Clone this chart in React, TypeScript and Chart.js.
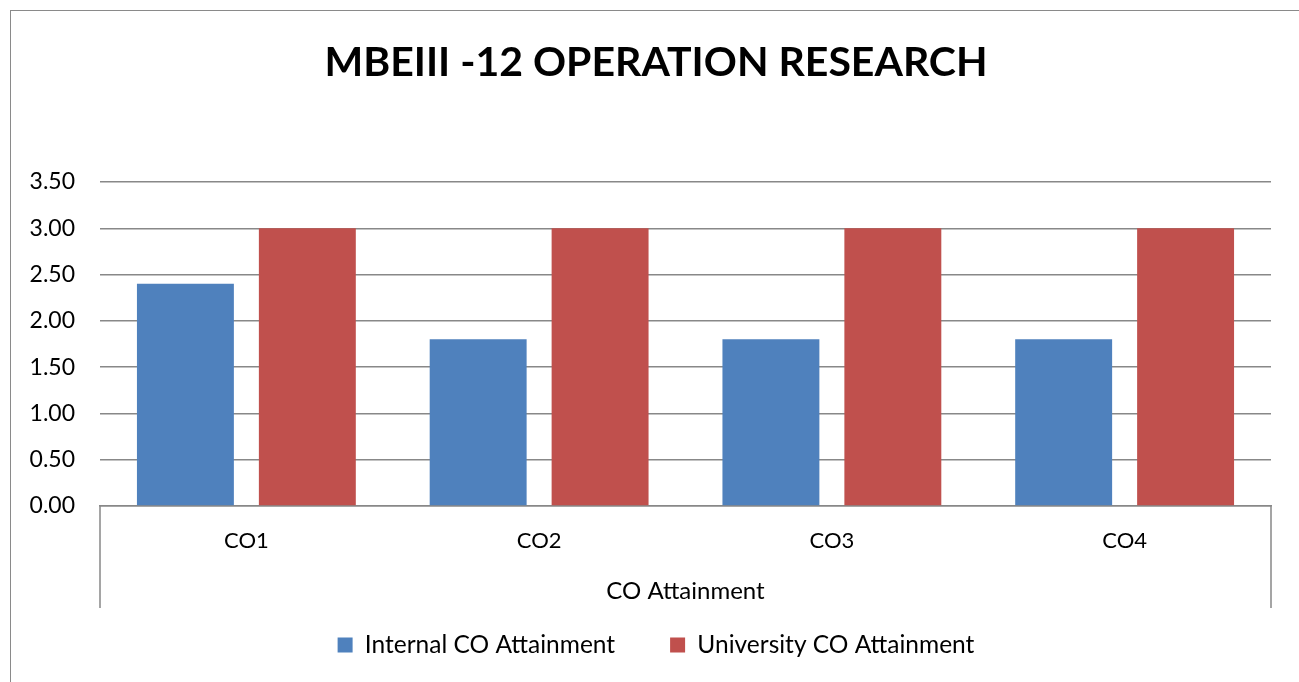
import React, { useEffect, useRef } from "react";
import { Chart, registerables } from "chart.js";

Chart.register(...registerables);

const chartTitle = "MBEIII -12 OPERATION RESEARCH";
const categories = ["CO1", "CO2", "CO3", "CO4"];
const axisTitle = "CO Attainment";
const seriesNames = ["Internal CO Attainment", "University CO Attainment"];
const internalValues = [2.4, 1.8, 1.8, 1.8];
const universityValues = [3.0, 3.0, 3.0, 3.0];
const yMin = 0;
const yMax = 3.5;
const yStep = 0.5;

const FONT = "Lato, 'Open Sans', sans-serif";
const GRAY = "#888888";

const extendLines = {
  id: "extendLines",
  afterDraw(chart: any) {
    const { ctx, chartArea } = chart;
    ctx.save();
    ctx.strokeStyle = GRAY;
    ctx.lineWidth = 1.5;
    ctx.beginPath();
    ctx.moveTo(chartArea.left, chartArea.bottom);
    ctx.lineTo(chartArea.left, chartArea.bottom + 102);
    ctx.moveTo(chartArea.right, chartArea.bottom);
    ctx.lineTo(chartArea.right, chartArea.bottom + 102);
    ctx.stroke();
    ctx.restore();
  },
};

export default function App() {
  const ref = useRef<HTMLCanvasElement>(null);
  useEffect(() => {
    if (!ref.current) return;
    const chart = new Chart(ref.current, {
      type: "bar",
      data: {
        labels: categories,
        datasets: [
          {
            label: seriesNames[0],
            data: internalValues,
            backgroundColor: "#4F81BD",
            borderWidth: 0,
            categoryPercentage: 0.833,
            barPercentage: 0.795,
            yAxisID: "y",
          },
          {
            label: seriesNames[1],
            data: universityValues,
            backgroundColor: "#C0504D",
            borderWidth: 0,
            categoryPercentage: 0.833,
            barPercentage: 0.795,
            yAxisID: "y",
          },
        ],
      },
      options: {
        responsive: false,
        animation: false,
        devicePixelRatio: 1,
        layout: { padding: { left: 0, right: 0, top: 0, bottom: 14.75 } },
        plugins: {
          title: {
            display: true,
            text: chartTitle,
            color: "#000",
            font: { family: FONT, size: 41, weight: "bold", lineHeight: 1.2 },
            padding: { top: 38.4, bottom: 94.4 },
          },
          legend: {
            display: true,
            position: "bottom",
            labels: {
              color: "#000",
              font: { family: FONT, size: 24.5 },
              boxWidth: 15,
              boxHeight: 15,
              padding: 55,
            },
          },
          tooltip: { enabled: false },
        },
        scales: {
          x: {
            grid: { display: false, drawTicks: false },
            border: { display: true, color: GRAY, width: 1.5 },
            ticks: {
              color: "#000",
              font: { family: FONT, size: 22 },
              padding: 22,
            },
            title: {
              display: true,
              text: axisTitle,
              color: "#000",
              font: { family: FONT, size: 24, lineHeight: 1.2 },
              padding: { top: 0, bottom: -27.65 },
            },
            afterFit(scale: any) {
              scale.height = 71.75;
            },
          },
          y: {
            position: "left",
            min: yMin,
            max: yMax,
            grid: { color: GRAY, lineWidth: 1.5, drawTicks: false },
            border: { display: false },
            ticks: {
              stepSize: yStep,
              color: "#000",
              font: { family: FONT, size: 23 },
              padding: 25,
              callback: (v: any) => Number(v).toFixed(2),
            },
            afterFit(scale: any) {
              scale.width = 100;
            },
          },
          yRightSpace: {
            position: "right",
            min: yMin,
            max: yMax,
            grid: { display: false, drawTicks: false },
            border: { display: false },
            ticks: { display: false },
            afterFit(scale: any) {
              scale.width = 41;
            },
          },
        },
      },
      plugins: [extendLines],
    } as any);
    return () => chart.destroy();
  }, []);

  return (
    <div
      style={{
        position: "fixed",
        left: 0,
        top: 0,
        width: "100vw",
        height: "100vh",
        overflow: "hidden",
        background: "#fff",
      }}
    >
      <div
        style={{
          position: "absolute",
          left: 10,
          top: 10,
          width: 1330,
          height: 720,
          border: "1.5px solid #8a8a8a",
        }}
      />
      <canvas
        ref={ref}
        width={1312}
        height={682}
        style={{ position: "absolute", left: 0, top: 0, display: "block" }}
      />
    </div>
  );
}
